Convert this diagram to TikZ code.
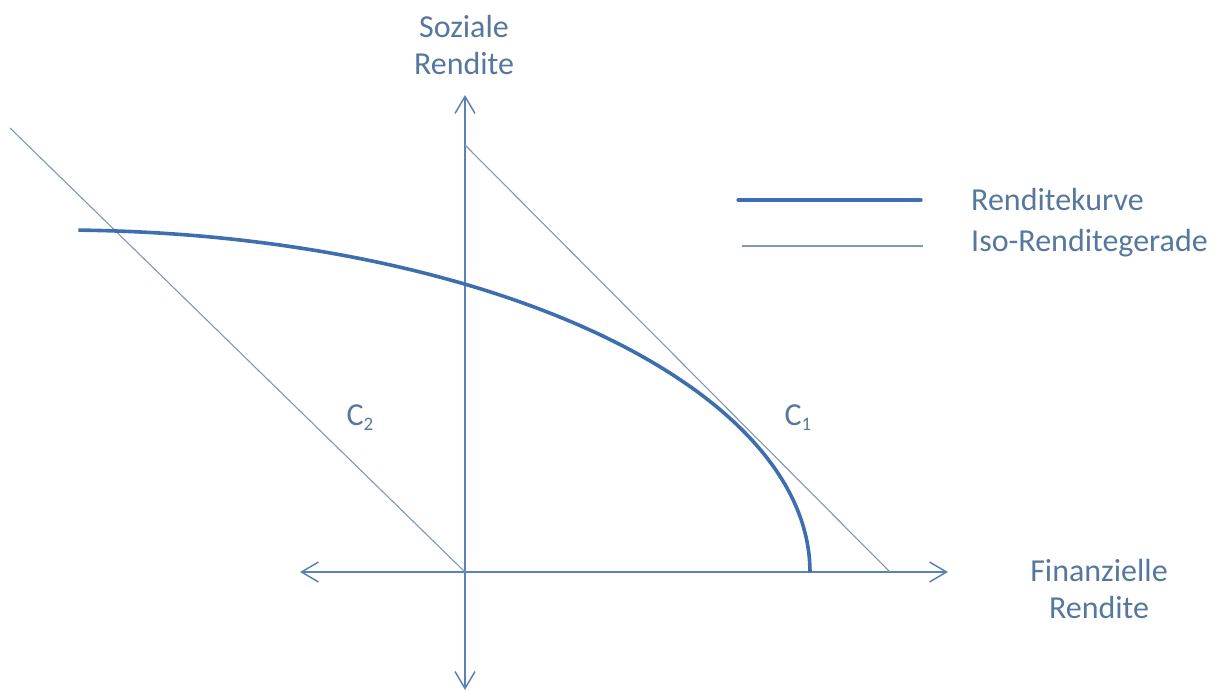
\documentclass[tikz,border=0pt]{standalone}
\usepackage{fontspec}
\setmainfont{Carlito}
\usetikzlibrary{arrows.meta}
\definecolor{axiscol}{HTML}{5A82B4}
\definecolor{curvecol}{HTML}{3E6EAE}
\definecolor{isocol}{HTML}{7F98B8}
\definecolor{txtcol}{HTML}{56779E}
\newcommand{\sub}[1]{\raisebox{-5pt}{\fontsize{19}{19}\selectfont #1}}
\begin{document}
\begin{tikzpicture}[x=1pt,y=-1pt,
  axis/.style={draw=axiscol,line width=1.5pt,-{Straight Barb[length=17pt,width=20pt,line width=1.5pt]}},
  iso/.style={draw=isocol,line width=1.1pt},
  curve/.style={draw=curvecol,line width=3.6pt},
  lbl/.style={text=txtcol,font=\fontsize{32}{37}\selectfont,align=center,inner sep=0pt}]
\path[use as bounding box] (0,0) rectangle (1223,693);
% axis coordinates
\coordinate (O) at (465,572);
\coordinate (ytop) at (465,95);
\coordinate (ybot) at (465,690);
\coordinate (xleft) at (300,572);
\coordinate (xright) at (948,572);
\draw[axis] (O) -- (ytop);
\draw[axis] (O) -- (ybot);
\draw[axis] (O) -- (xleft);
\draw[axis] (O) -- (xright);
% iso lines
\coordinate (c1a) at (465,145);
\coordinate (c1b) at (890,572);
\coordinate (c2a) at (10,128);
\draw[iso] (c1a) -- (c1b);
\draw[iso] (c2a) -- (O);
% return curve
\draw[curve] plot[domain=0:88.6,samples=120] ({60+750*cos(\x)},{572-342*sin(\x)});
% labels
\node[lbl] (ylab) at (464,45) {Soziale\\Rendite};
\node[lbl] (xlab) at (1099,589) {Finanzielle\\Rendite};
\node[lbl] (c1) at (798,418) {C\sub{1}};
\node[lbl] (c2) at (360,418) {C\sub{2}};
% legend
\coordinate (l1a) at (738,200);
\coordinate (l1b) at (921,200);
\coordinate (l2a) at (742,246);
\coordinate (l2b) at (923,246);
\draw[curve,line width=3.2pt,line cap=round] (l1a) -- (l1b);
\draw[iso] (l2a) -- (l2b);
\node[lbl,anchor=west] (leg1) at (971,200) {Renditekurve};
\node[lbl,anchor=west] (leg2) at (971,243) {Iso-Renditegerade};
\end{tikzpicture}
\end{document}
